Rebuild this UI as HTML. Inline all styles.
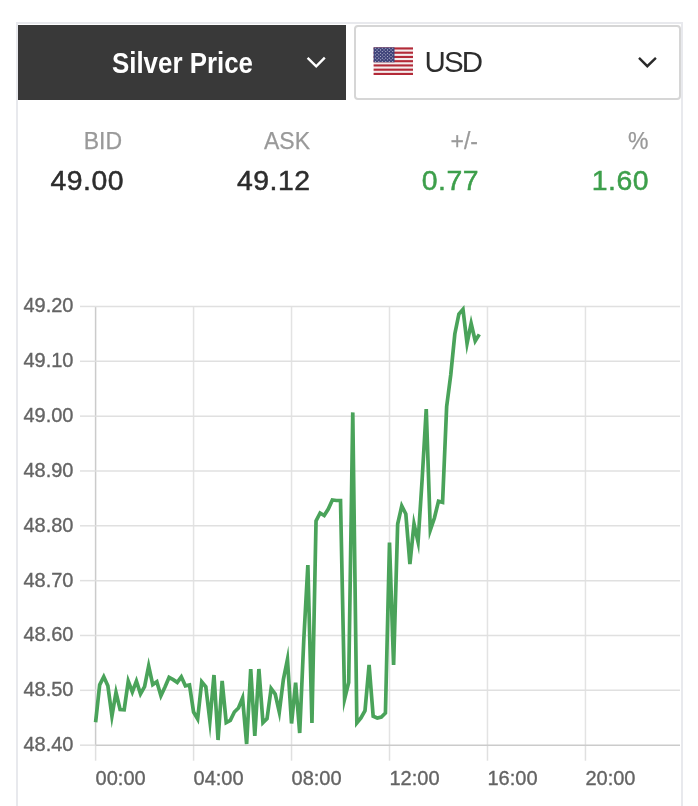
<!DOCTYPE html>
<html><head><meta charset="utf-8"><style>
html,body{margin:0;padding:0;background:#fff;}
body{width:698px;height:806px;position:relative;overflow:hidden;font-family:"Liberation Sans",sans-serif;}
#wrap{position:absolute;left:0;top:0;width:698px;height:806px;will-change:transform;}
.outer{position:absolute;left:16px;top:22px;width:663px;height:800px;border:2px solid #e8e9ed;border-bottom:none;}
.dark{position:absolute;left:18px;top:24.5px;width:328px;height:75.3px;background:#393939;}
.usd{position:absolute;left:354px;top:25px;width:323px;height:71px;border:2px solid #d6d6d6;border-radius:4px;background:#fff;}
.t{position:absolute;white-space:nowrap;}
</style></head><body><div id="wrap">
<div class="outer"></div>
<div class="dark"></div>
<div class="usd"></div>
<div class="t" id="title" style="left:111.5px;top:46px;font-size:29.4px;font-weight:bold;color:#fff;transform:scaleX(0.88);transform-origin:0 0;">Silver Price</div>
<div class="t" id="usdt" style="left:424.5px;top:45px;font-size:29.5px;color:#2d2d2d;letter-spacing:-1.9px;">USD</div>
<div class="t" style="right:576px;top:127.7px;font-size:23px;color:#999;-webkit-text-stroke:0.25px currentColor;">BID</div>
<div class="t" style="right:388px;top:127.7px;font-size:23px;color:#999;-webkit-text-stroke:0.25px currentColor;">ASK</div>
<div class="t" style="right:220px;top:127.7px;font-size:23px;color:#999;-webkit-text-stroke:0.25px currentColor;">+/-</div>
<div class="t" style="right:49.5px;top:127.7px;font-size:23px;color:#999;-webkit-text-stroke:0.25px currentColor;">%</div>
<div class="t" style="right:574px;top:164px;font-size:28.4px;letter-spacing:0.5px;-webkit-text-stroke:0.5px currentColor;color:#2d2d2d;">49.00</div>
<div class="t" style="right:387.5px;top:164px;font-size:28.4px;letter-spacing:0.5px;-webkit-text-stroke:0.5px currentColor;color:#2d2d2d;">49.12</div>
<div class="t" style="right:219px;top:164px;font-size:28.4px;letter-spacing:0.5px;-webkit-text-stroke:0.5px currentColor;color:#3d9f4b;">0.77</div>
<div class="t" style="right:49px;top:164px;font-size:28.4px;letter-spacing:0.5px;-webkit-text-stroke:0.5px currentColor;color:#3d9f4b;">1.60</div>
<svg width="698" height="806" style="position:absolute;left:0;top:0">
<rect x="373.6" y="47.4" width="39.4" height="27.6" fill="#f4eeee"/><rect x="373.6" y="47.40" width="39.4" height="2.12" fill="#b32a38"/><rect x="373.6" y="51.65" width="39.4" height="2.12" fill="#b32a38"/><rect x="373.6" y="55.89" width="39.4" height="2.12" fill="#b32a38"/><rect x="373.6" y="60.14" width="39.4" height="2.12" fill="#b32a38"/><rect x="373.6" y="64.38" width="39.4" height="2.12" fill="#b32a38"/><rect x="373.6" y="68.63" width="39.4" height="2.12" fill="#b32a38"/><rect x="373.6" y="72.88" width="39.4" height="2.12" fill="#b32a38"/><rect x="373.6" y="47.4" width="20.88" height="14.86" fill="#3f437a"/><circle cx="375.34" cy="48.23" r="0.55" fill="#c8c9dc"/><circle cx="378.82" cy="48.23" r="0.55" fill="#c8c9dc"/><circle cx="382.30" cy="48.23" r="0.55" fill="#c8c9dc"/><circle cx="385.78" cy="48.23" r="0.55" fill="#c8c9dc"/><circle cx="389.26" cy="48.23" r="0.55" fill="#c8c9dc"/><circle cx="392.74" cy="48.23" r="0.55" fill="#c8c9dc"/><circle cx="377.08" cy="49.88" r="0.55" fill="#c8c9dc"/><circle cx="380.56" cy="49.88" r="0.55" fill="#c8c9dc"/><circle cx="384.04" cy="49.88" r="0.55" fill="#c8c9dc"/><circle cx="387.52" cy="49.88" r="0.55" fill="#c8c9dc"/><circle cx="391.00" cy="49.88" r="0.55" fill="#c8c9dc"/><circle cx="375.34" cy="51.53" r="0.55" fill="#c8c9dc"/><circle cx="378.82" cy="51.53" r="0.55" fill="#c8c9dc"/><circle cx="382.30" cy="51.53" r="0.55" fill="#c8c9dc"/><circle cx="385.78" cy="51.53" r="0.55" fill="#c8c9dc"/><circle cx="389.26" cy="51.53" r="0.55" fill="#c8c9dc"/><circle cx="392.74" cy="51.53" r="0.55" fill="#c8c9dc"/><circle cx="377.08" cy="53.18" r="0.55" fill="#c8c9dc"/><circle cx="380.56" cy="53.18" r="0.55" fill="#c8c9dc"/><circle cx="384.04" cy="53.18" r="0.55" fill="#c8c9dc"/><circle cx="387.52" cy="53.18" r="0.55" fill="#c8c9dc"/><circle cx="391.00" cy="53.18" r="0.55" fill="#c8c9dc"/><circle cx="375.34" cy="54.83" r="0.55" fill="#c8c9dc"/><circle cx="378.82" cy="54.83" r="0.55" fill="#c8c9dc"/><circle cx="382.30" cy="54.83" r="0.55" fill="#c8c9dc"/><circle cx="385.78" cy="54.83" r="0.55" fill="#c8c9dc"/><circle cx="389.26" cy="54.83" r="0.55" fill="#c8c9dc"/><circle cx="392.74" cy="54.83" r="0.55" fill="#c8c9dc"/><circle cx="377.08" cy="56.48" r="0.55" fill="#c8c9dc"/><circle cx="380.56" cy="56.48" r="0.55" fill="#c8c9dc"/><circle cx="384.04" cy="56.48" r="0.55" fill="#c8c9dc"/><circle cx="387.52" cy="56.48" r="0.55" fill="#c8c9dc"/><circle cx="391.00" cy="56.48" r="0.55" fill="#c8c9dc"/><circle cx="375.34" cy="58.13" r="0.55" fill="#c8c9dc"/><circle cx="378.82" cy="58.13" r="0.55" fill="#c8c9dc"/><circle cx="382.30" cy="58.13" r="0.55" fill="#c8c9dc"/><circle cx="385.78" cy="58.13" r="0.55" fill="#c8c9dc"/><circle cx="389.26" cy="58.13" r="0.55" fill="#c8c9dc"/><circle cx="392.74" cy="58.13" r="0.55" fill="#c8c9dc"/><circle cx="377.08" cy="59.78" r="0.55" fill="#c8c9dc"/><circle cx="380.56" cy="59.78" r="0.55" fill="#c8c9dc"/><circle cx="384.04" cy="59.78" r="0.55" fill="#c8c9dc"/><circle cx="387.52" cy="59.78" r="0.55" fill="#c8c9dc"/><circle cx="391.00" cy="59.78" r="0.55" fill="#c8c9dc"/><circle cx="375.34" cy="61.44" r="0.55" fill="#c8c9dc"/><circle cx="378.82" cy="61.44" r="0.55" fill="#c8c9dc"/><circle cx="382.30" cy="61.44" r="0.55" fill="#c8c9dc"/><circle cx="385.78" cy="61.44" r="0.55" fill="#c8c9dc"/><circle cx="389.26" cy="61.44" r="0.55" fill="#c8c9dc"/><circle cx="392.74" cy="61.44" r="0.55" fill="#c8c9dc"/>
<polyline points="307.6,57.9 316.2,66.3 324.8,57.6" fill="none" stroke="#fff" stroke-width="2.4"/>
<polyline points="639,57.9 647.3,66.2 655.9,57.9" fill="none" stroke="#2a2a2a" stroke-width="2.4"/>
<line x1="95.60" y1="306.45" x2="95.60" y2="745.17" stroke="#cbcbcb" stroke-width="1.5"/><line x1="95.60" y1="745.17" x2="95.60" y2="760.7" stroke="#e0e0e0" stroke-width="1.5"/><line x1="193.57" y1="306.45" x2="193.57" y2="745.17" stroke="#e3e3e3" stroke-width="1.5"/><line x1="193.57" y1="745.17" x2="193.57" y2="760.7" stroke="#e0e0e0" stroke-width="1.5"/><line x1="291.54" y1="306.45" x2="291.54" y2="745.17" stroke="#e3e3e3" stroke-width="1.5"/><line x1="291.54" y1="745.17" x2="291.54" y2="760.7" stroke="#e0e0e0" stroke-width="1.5"/><line x1="389.51" y1="306.45" x2="389.51" y2="745.17" stroke="#e3e3e3" stroke-width="1.5"/><line x1="389.51" y1="745.17" x2="389.51" y2="760.7" stroke="#e0e0e0" stroke-width="1.5"/><line x1="487.48" y1="306.45" x2="487.48" y2="745.17" stroke="#e3e3e3" stroke-width="1.5"/><line x1="487.48" y1="745.17" x2="487.48" y2="760.7" stroke="#e0e0e0" stroke-width="1.5"/><line x1="585.45" y1="306.45" x2="585.45" y2="745.17" stroke="#e3e3e3" stroke-width="1.5"/><line x1="585.45" y1="745.17" x2="585.45" y2="760.7" stroke="#e0e0e0" stroke-width="1.5"/>
<line x1="80" y1="306.45" x2="95.6" y2="306.45" stroke="#e0e0e0" stroke-width="1.5"/><line x1="95.6" y1="306.45" x2="680" y2="306.45" stroke="#e0e0e0" stroke-width="1.5"/><line x1="80" y1="361.29" x2="95.6" y2="361.29" stroke="#e0e0e0" stroke-width="1.5"/><line x1="95.6" y1="361.29" x2="680" y2="361.29" stroke="#e0e0e0" stroke-width="1.5"/><line x1="80" y1="416.13" x2="95.6" y2="416.13" stroke="#e0e0e0" stroke-width="1.5"/><line x1="95.6" y1="416.13" x2="680" y2="416.13" stroke="#e0e0e0" stroke-width="1.5"/><line x1="80" y1="470.97" x2="95.6" y2="470.97" stroke="#e0e0e0" stroke-width="1.5"/><line x1="95.6" y1="470.97" x2="680" y2="470.97" stroke="#e0e0e0" stroke-width="1.5"/><line x1="80" y1="525.81" x2="95.6" y2="525.81" stroke="#e0e0e0" stroke-width="1.5"/><line x1="95.6" y1="525.81" x2="680" y2="525.81" stroke="#e0e0e0" stroke-width="1.5"/><line x1="80" y1="580.65" x2="95.6" y2="580.65" stroke="#e0e0e0" stroke-width="1.5"/><line x1="95.6" y1="580.65" x2="680" y2="580.65" stroke="#e0e0e0" stroke-width="1.5"/><line x1="80" y1="635.49" x2="95.6" y2="635.49" stroke="#e0e0e0" stroke-width="1.5"/><line x1="95.6" y1="635.49" x2="680" y2="635.49" stroke="#e0e0e0" stroke-width="1.5"/><line x1="80" y1="690.33" x2="95.6" y2="690.33" stroke="#e0e0e0" stroke-width="1.5"/><line x1="95.6" y1="690.33" x2="680" y2="690.33" stroke="#e0e0e0" stroke-width="1.5"/><line x1="80" y1="745.17" x2="95.6" y2="745.17" stroke="#e0e0e0" stroke-width="1.5"/><line x1="95.6" y1="745.17" x2="680" y2="745.17" stroke="#cbcbcb" stroke-width="1.5"/>
<g font-family="Liberation Sans" font-size="20" fill="#646464" stroke="#646464" stroke-width="0.35">
<text x="73.5" y="312.45" text-anchor="end">49.20</text><text x="73.5" y="367.29" text-anchor="end">49.10</text><text x="73.5" y="422.13" text-anchor="end">49.00</text><text x="73.5" y="476.97" text-anchor="end">48.90</text><text x="73.5" y="531.81" text-anchor="end">48.80</text><text x="73.5" y="586.65" text-anchor="end">48.70</text><text x="73.5" y="641.49" text-anchor="end">48.60</text><text x="73.5" y="696.33" text-anchor="end">48.50</text><text x="73.5" y="751.17" text-anchor="end">48.40</text>
<text x="95.60" y="785" text-anchor="start">00:00</text><text x="193.57" y="785" text-anchor="start">04:00</text><text x="291.54" y="785" text-anchor="start">08:00</text><text x="389.51" y="785" text-anchor="start">12:00</text><text x="487.48" y="785" text-anchor="start">16:00</text><text x="585.45" y="785" text-anchor="start">20:00</text>
</g>
<polyline points="95.60,722.2 99.68,684.8 103.76,676.7 107.85,685.7 111.93,716.0 116.01,692.4 120.09,709.5 124.17,709.8 128.26,681.2 132.34,692.0 136.42,681.2 140.50,693.9 144.58,686.6 148.67,666.0 152.75,684.6 156.83,681.7 160.91,695.8 164.99,687.0 169.08,677.4 173.16,679.6 177.24,682.4 181.32,676.8 185.40,685.8 189.49,685.0 193.57,712.0 197.65,719.0 201.73,681.9 205.81,686.8 209.90,721.0 213.98,675.0 218.06,740.0 222.14,681.0 226.22,722.6 230.31,720.3 234.39,712.0 238.47,708.0 242.55,698.0 246.63,744.0 250.72,669.0 254.80,736.0 258.88,669.0 262.96,722.6 267.04,718.7 271.13,688.5 275.21,694.1 279.29,712.0 283.37,679.6 287.45,659.5 291.54,723.5 295.62,682.6 299.70,733.0 303.78,640.0 307.86,565.0 311.95,723.0 316.03,521.0 320.11,513.0 324.19,515.5 328.27,509.0 332.36,500.0 336.44,500.5 340.52,500.5 344.60,699.0 348.68,682.5 352.77,412.4 356.85,723.0 360.93,718.0 365.01,710.7 369.09,665.0 373.18,716.3 377.26,718.0 381.34,717.0 385.42,713.0 389.50,542.5 393.59,665.0 397.67,524.0 401.75,506.0 405.83,514.0 409.91,564.0 414.00,524.0 418.08,542.0 422.16,479.0 426.24,409.0 430.32,530.0 434.41,518.0 438.49,501.3 442.57,502.4 446.65,406.6 450.73,375.0 454.82,334.0 458.90,314.0 462.98,309.3 467.06,343.5 471.14,323.5 475.23,341.0 479.31,334.4" fill="none" stroke="#4aa35a" stroke-width="3.7" stroke-linejoin="miter" stroke-miterlimit="10"/>
</svg>
</div></body></html>
